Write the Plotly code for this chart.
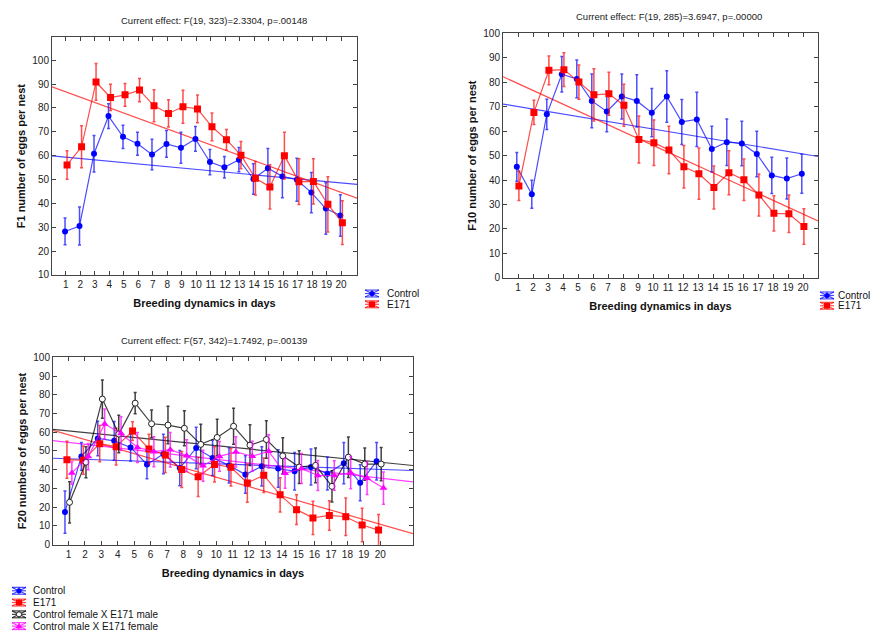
import numpy as np
import plotly.graph_objects as go

days = list(range(1, 21))

# ---- F1 panel ----
f1_control = [28.2, 30.5, 60.8, 76.6, 67.9, 65.0, 60.5, 64.9, 63.3, 67.0,
              57.3, 55.1, 58.3, 50.2, 54.7, 51.3, 49.9, 44.5, 37.8, 34.9]
f1_control_err = [5.6, 8.0, 7.7, 5.2, 4.9, 4.8, 6.4, 5.6, 6.5, 5.2,
                  5.3, 4.5, 5.1, 6.4, 8.3, 9.0, 9.0, 8.4, 10.8, 8.7]
f1_e171 = [56.1, 63.7, 90.9, 84.4, 85.5, 87.5, 80.9, 77.7, 80.5, 79.6,
           72.1, 66.7, 60.2, 50.5, 46.9, 60.0, 49.1, 49.2, 39.6, 31.9]
f1_e171_err = [6.0, 8.8, 7.7, 5.5, 4.8, 4.9, 6.7, 5.7, 6.9, 5.8,
               5.8, 4.3, 5.7, 7.0, 9.3, 9.8, 9.6, 9.5, 11.6, 9.2]

# ---- F10 panel ----
f10_control = [45.4, 34.2, 66.9, 83.3, 81.4, 72.4, 68.1, 74.2, 72.4, 67.6,
               74.2, 63.8, 64.8, 52.7, 55.5, 55.0, 50.7, 41.9, 40.6, 42.6]
f10_control_err = [5.9, 5.7, 6.2, 7.3, 7.7, 11.0, 8.3, 9.2, 10.7, 9.9,
                   10.5, 9.2, 11.1, 9.3, 9.5, 9.1, 9.3, 7.4, 8.4, 8.0]
f10_e171 = [37.6, 67.7, 84.9, 85.2, 80.1, 74.9, 75.3, 70.6, 56.6, 55.3,
            52.3, 45.4, 42.6, 37.0, 43.0, 40.1, 33.9, 26.4, 26.2, 21.0]
f10_e171_err = [6.0, 5.0, 5.9, 6.9, 7.0, 10.7, 8.8, 8.6, 9.6, 9.3,
                9.7, 8.7, 10.5, 8.8, 9.0, 8.5, 8.6, 7.2, 7.7, 7.3]

# ---- F20 panel ----
f20_control = [17.4, 47.1, 56.7, 55.4, 51.9, 42.8, 48.4, 40.9, 51.6, 46.3,
               42.3, 37.4, 41.8, 40.6, 39.2, 41.4, 37.9, 43.5, 33.0, 44.5]
f20_control_err = [11.3, 7.4, 9.2, 10.3, 7.2, 7.6, 10.5, 9.4, 11.1, 9.4,
                   9.4, 10.0, 10.5, 10.0, 10.0, 9.6, 8.7, 11.0, 9.6, 10.0]
f20_e171 = [45.3, 45.1, 53.9, 52.3, 60.6, 51.0, 47.9, 40.1, 36.2, 42.8,
            41.3, 32.9, 37.1, 26.6, 18.7, 14.3, 15.6, 14.9, 10.5, 7.8]
f20_e171_err = [9.9, 7.5, 9.7, 9.8, 5.0, 7.9, 9.4, 9.6, 10.5, 9.4,
                10.0, 10.2, 9.2, 9.1, 8.0, 8.9, 7.9, 10.0, 8.9, 8.3]
f20_cf_e171m = [22.6, 44.0, 77.7, 59.0, 75.5, 64.5, 63.8, 62.1, 53.5, 57.2,
                63.2, 53.1, 56.1, 47.4, 41.4, 42.3, 31.1, 46.7, 43.0, 43.0]
f20_cf_e171m_err = [11.0, 8.3, 10.2, 10.0, 5.7, 7.4, 10.0, 9.3, 10.8, 9.7,
                    9.6, 10.9, 10.0, 9.6, 8.7, 9.3, 8.3, 10.8, 8.6, 8.9]
f20_cm_e171f = [38.3, 47.0, 64.4, 59.3, 51.9, 49.6, 50.7, 47.5, 42.1, 47.1,
                49.5, 47.2, 49.8, 38.1, 40.6, 36.9, 36.9, 38.4, 35.5, 30.2]
f20_cm_e171f_err = [6.0, 7.0, 8.0, 9.0, 8.0, 8.0, 9.2, 8.5, 8.3, 7.9,
                    8.1, 8.0, 8.9, 8.0, 8.0, 8.0, 7.9, 8.6, 8.7, 8.6]

titles = ["Current effect: F(19, 323)=2.3304, p=.00148",
          "Current effect: F(19, 285)=3.6947, p=.00000",
          "Current effect: F(57, 342)=1.7492, p=.00139"]
y_titles = ["F1 number of eggs per nest",
            "F10 number of eggs per nest",
            "F20 numbers of eggs per nest"]
x_title = "Breeding dynamics in days"

W, H = 872, 638
FONT = "Arial, Liberation Sans, sans-serif"

def px_dom_x(a, b):
    return [a / W, b / W]

def px_dom_y(top, bottom):
    return [1 - bottom / H, 1 - top / H]

STY = {
    "Control": dict(line="rgba(0,0,255,0.7)", color="#0000FF",
                    mk=dict(symbol="circle", size=6, color="#0000FF", line=dict(width=0))),
    "E171": dict(line="rgba(255,0,0,0.7)", color="#FF0000",
                 mk=dict(symbol="square", size=7, color="#FF0000", line=dict(width=0))),
    "Control female X E171 male": dict(line="rgba(0,0,0,0.75)", color="#222222",
                                       mk=dict(symbol="circle", size=6, color="white",
                                               line=dict(width=1, color="#222"))),
    "Control male X E171 female": dict(line="rgba(255,0,255,0.75)", color="#FF00FF",
                                       mk=dict(symbol="triangle-up", size=7, color="#FF00FF",
                                               line=dict(width=0))),
}

fig = go.Figure()

panels = [
    dict(ax="", xr=[0.05, 21.1], yr=[10, 109.6], dx=px_dom_x(52, 357), dy=px_dom_y(32, 274),
         series=[("Control", f1_control, f1_control_err, -0.05),
                 ("E171", f1_e171, f1_e171_err, 0.09)],
         leg=dict(x=365, y=293, step=11, gap=6), tshift=9),
    dict(ax="2", xr=[0.0, 21.0], yr=[0, 100], dx=px_dom_x(503, 818), dy=px_dom_y(28, 277),
         series=[("Control", f10_control, f10_control_err, -0.08),
                 ("E171", f10_e171, f10_e171_err, 0.06)],
         leg=dict(x=820, y=295, step=10.5, gap=2), tshift=8),
    dict(ax="3", xr=[0.05, 22.0], yr=[0, 100], dx=px_dom_x(53, 413), dy=px_dom_y(358, 549),
         series=[("Control", f20_control, f20_control_err, -0.22),
                 ("E171", f20_e171, f20_e171_err, -0.1),
                 ("Control female X E171 male", f20_cf_e171m, f20_cf_e171m_err, 0.06),
                 ("Control male X E171 female", f20_cm_e171f, f20_cm_e171f_err, 0.2)],
         leg=dict(x=12, y=596, step=12, gap=5), tshift=-19),
]

for p in panels:
    xa, ya = "x" + p["ax"], "y" + p["ax"]
    # regression lines first (drawn beneath)
    for name, vals, errs, off in p["series"]:
        slope, inter = np.polyfit(days, vals, 1)
        xs = np.array(p["xr"])
        fig.add_trace(go.Scatter(x=xs, y=inter + slope * xs, mode="lines",
                                 line=dict(color=STY[name]["line"], width=1.2),
                                 xaxis=xa, yaxis=ya, showlegend=False, hoverinfo="skip"))
    for name, vals, errs, off in p["series"]:
        st = STY[name]
        fig.add_trace(go.Scatter(
            x=[d + off for d in days], y=vals, mode="lines+markers", name=name,
            line=dict(color=st["line"], width=1.2), marker=st["mk"],
            error_y=dict(type="data", array=errs, color=st["line"], thickness=1.5, width=1.5),
            xaxis=xa, yaxis=ya, showlegend=False))


def axis_common():
    return dict(showgrid=False, zeroline=False, showline=True, linecolor="#444", linewidth=1,
                mirror="ticks", ticks="inside", ticklen=4, tickcolor="#444",
                tickfont=dict(family=FONT, size=10, color="#222"))

for i, p in enumerate(panels):
    k = "" if p["ax"] == "" else p["ax"]
    xa = axis_common()
    xa.update(domain=p["dx"], range=p["xr"], tickvals=days, anchor="y" + k,
              title=dict(text="<b>" + x_title + "</b>", font=dict(family=FONT, size=11, color="#111"),
                         standoff=10))
    ya = axis_common()
    ya.update(domain=p["dy"], range=p["yr"], dtick=10, anchor="x" + k,
              title=dict(text="<b>" + y_titles[i] + "</b>", font=dict(family=FONT, size=11, color="#111"),
                         standoff=4))
    fig.layout["xaxis" + k] = xa
    fig.layout["yaxis" + k] = ya
    fig.add_annotation(text=titles[i], xref="x" + k + " domain", yref="y" + k + " domain",
                       x=0.5, y=1.0, yshift=9, xshift=p["tshift"], showarrow=False, yanchor="bottom",
                       font=dict(family=FONT, size=9.5, color="#222"))


# ---- Statistica-style legends (glyph: caps, whisker cross, marker) ----
def PX(x):
    return x / W

def PY(y):
    return 1 - y / H

def legend_entry(x0, yc, name, gap):
    st = STY[name]
    gw, gh = 14, 3.5
    lc = st["line"]
    seg = [((x0, yc - gh), (x0 + gw, yc - gh)), ((x0, yc + gh), (x0 + gw, yc + gh)),
           ((x0, yc), (x0 + gw, yc)), ((x0, yc - gh), (x0 + gw, yc + gh)),
           ((x0, yc + gh), (x0 + gw, yc - gh)), ((x0 + gw / 2, yc - gh), (x0 + gw / 2, yc + gh))]
    for (a, b) in seg:
        fig.add_shape(type="line", xref="paper", yref="paper", x0=PX(a[0]), y0=PY(a[1]),
                      x1=PX(b[0]), y1=PY(b[1]), line=dict(color=lc, width=1.2))
    cx = x0 + gw / 2
    sym = st["mk"]["symbol"]
    if sym == "square":
        r = 3
        fig.add_shape(type="rect", xref="paper", yref="paper", x0=PX(cx - r), x1=PX(cx + r),
                      y0=PY(yc + r), y1=PY(yc - r), fillcolor=st["color"], line=dict(width=0))
    elif sym == "triangle-up":
        r = 3.2
        path = "M {} {} L {} {} L {} {} Z".format(PX(cx - r), PY(yc + r * 0.8), PX(cx + r), PY(yc + r * 0.8),
                                                  PX(cx), PY(yc - r))
        fig.add_shape(type="path", xref="paper", yref="paper", path=path,
                      fillcolor=st["color"], line=dict(width=0))
    else:
        r = 2.6
        fill = st["mk"]["color"]
        fig.add_shape(type="circle", xref="paper", yref="paper", x0=PX(cx - r), x1=PX(cx + r),
                      y0=PY(yc + r), y1=PY(yc - r), fillcolor=fill,
                      line=dict(width=1 if fill == "white" else 0, color=st["color"]))
    fig.add_annotation(text=name, xref="paper", yref="paper", x=PX(x0 + gw + gap), y=PY(yc),
                       xanchor="left", yanchor="middle", showarrow=False,
                       font=dict(family=FONT, size=10, color="#111"))

for p in panels:
    lg = p["leg"]
    for j, (name, _, _, _) in enumerate(p["series"]):
        legend_entry(lg["x"], lg["y"] + j * lg["step"], name, lg["gap"])

fig.update_layout(
    width=W, height=H, autosize=False,
    margin=dict(l=0, r=0, t=0, b=0),
    paper_bgcolor="white", plot_bgcolor="white",
    showlegend=False,
)

fig.write_html("out.html",
               config={"responsive": False, "displayModeBar": False},
               post_script="document.body.style.margin='0';document.body.style.overflow='hidden';")
